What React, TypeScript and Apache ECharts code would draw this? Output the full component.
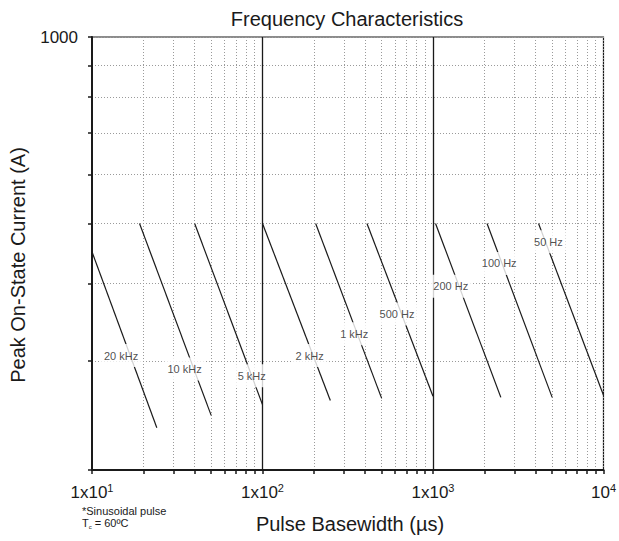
import React, { useEffect, useRef } from "react";
import * as echarts from "echarts";

// ---- data ----
const freqNames = ["20 kHz", "10 kHz", "5 kHz", "2 kHz", "1 kHz", "500 Hz", "200 Hz", "100 Hz", "50 Hz"];
const startWidth = [10, 19, 40, 100, 205, 410, 1035, 2075, 4160];
const startCurrent = [450, 500, 500, 500, 500, 500, 500, 500, 500];
const endWidth = [24, 50, 100, 250, 500, 1000, 2500, 5000, 10000];
const endCurrent = [234, 245, 255, 259, 261, 263, 262, 262, 264];
const labelWidth = [14.8, 34.9, 86.5, 189, 345, 615, 1271, 2445, 4755];
const labelCurrent = [306, 291, 284, 306, 332, 357, 396, 431, 467];

const xTicks = [10, 20, 30, 40, 50, 60, 70, 80, 90, 100, 200, 300, 400, 500, 600, 700, 800, 900, 1000, 2000, 3000, 4000, 5000, 6000, 7000, 8000, 9000, 10000];
const xLabelValues = [10, 100, 1000, 10000];
const xLabelBase = ["1x10", "1x10", "1x10", "10"];
const xLabelExp = ["1", "2", "3", "4"];
const majorGridX = [100, 1000];
const yTicks = [200, 300, 400, 500, 600, 700, 800, 900, 1000];
const yLabelValues = [1000];

const FONT = "'Liberation Sans', Arial, Helvetica, sans-serif";
const INK = "#1a1a1a";
const GRID = "#9a9a9a";

function findLabelIndex(v: number): number {
  let idx = xLabelValues.findIndex((t) => Math.abs(Math.log10(t) - Math.log10(v)) < 0.01);
  if (idx < 0) idx = xLabelValues.findIndex((t) => Math.abs(Math.log10(t) - v) < 0.01);
  return idx;
}

export default function App() {
  const ref = useRef<HTMLDivElement>(null);

  useEffect(() => {
    if (!ref.current) return;
    const chart = echarts.init(ref.current, null, { renderer: "svg" });

    const lineSeries: any[] = freqNames.map((name, i) => ({
      type: "line",
      name,
      data: [
        [startWidth[i], startCurrent[i]],
        [endWidth[i], endCurrent[i]],
      ],
      symbol: "none",
      showSymbol: false,
      silent: true,
      z: 3,
      lineStyle: { color: INK, width: 1.2 },
      ...(i === 0
        ? {
            markLine: {
              silent: true,
              symbol: ["none", "none"],
              label: { show: false },
              lineStyle: { color: INK, width: 1.3, type: "solid" },
              emphasis: { disabled: true },
              data: majorGridX.map((v) => ({ xAxis: v })),
            },
          }
        : {}),
    }));

    const labelSeries = {
      type: "scatter",
      silent: true,
      z: 10,
      symbolSize: 1,
      itemStyle: { color: "rgba(255,255,255,0)" },
      data: freqNames.map((n, i) => ({ name: n, value: [labelWidth[i], labelCurrent[i]] })),
      label: {
        show: true,
        position: "inside",
        formatter: "{b}",
        fontSize: 11,
        fontFamily: FONT,
        color: "#222",
        backgroundColor: "#fff",
        lineHeight: 13,
        padding: [5, 3],
      },
    };

    chart.setOption({
      animation: false,
      backgroundColor: "#fff",
      grid: {
        left: 92,
        top: 37,
        right: 13,
        bottom: 71,
        show: true,
        borderColor: INK,
        borderWidth: 1.2,
        backgroundColor: "transparent",
      },
      xAxis: {
        type: "log",
        logBase: 10,
        min: 10,
        max: 10000,
        axisLine: { show: true, onZero: false, lineStyle: { color: INK, width: 2 } },
        axisTick: { show: true, customValues: xTicks, length: 4, inside: false, lineStyle: { color: INK, width: 1.5 } },
        axisLabel: {
          customValues: xLabelValues,
          showMinLabel: true,
          showMaxLabel: true,
          margin: 12,
          formatter: (v: number) => {
            const i = findLabelIndex(v);
            if (i < 0) return "";
            return "{m|" + xLabelBase[i] + "}{s|" + xLabelExp[i] + "}";
          },
          rich: {
            m: { fontSize: 17, fontFamily: FONT, color: INK, lineHeight: 20 },
            s: { fontSize: 11, fontFamily: FONT, color: INK, lineHeight: 12, verticalAlign: "top" },
          },
        },
        splitLine: { show: true, lineStyle: { color: GRID, width: 1, type: [1, 2] } },
      },
      yAxis: {
        type: "log",
        logBase: 10,
        min: 200,
        max: 1000,
        axisLine: { show: true, onZero: false, lineStyle: { color: INK, width: 2 } },
        axisTick: { show: true, customValues: yTicks, length: 4, inside: false, lineStyle: { color: INK, width: 1.5 } },
        axisLabel: {
          customValues: yLabelValues,
          showMinLabel: true,
          showMaxLabel: true,
          margin: 14,
          fontSize: 17,
          fontFamily: FONT,
          color: INK,
          padding: [0, 0, 4, 0],
          formatter: (v: number) => {
            const val = v < 10 ? Math.pow(10, v) : v;
            return String(Math.round(val));
          },
        },
        splitLine: { show: true, lineStyle: { color: GRID, width: 1, type: [1, 2] } },
      },
      graphic: [
        {
          type: "text",
          x: 347,
          y: 19,
          silent: true,
          style: { text: "Frequency Characteristics", fontSize: 20, fontFamily: FONT, fill: INK, align: "center", verticalAlign: "middle" },
        },
        {
          type: "text",
          x: 350,
          y: 524,
          silent: true,
          style: { text: "Pulse Basewidth (\u00b5s)", fontSize: 20, fontFamily: FONT, fill: INK, align: "center", verticalAlign: "middle" },
        },
        {
          type: "text",
          x: 18,
          y: 265,
          rotation: Math.PI / 2,
          silent: true,
          style: { text: "Peak On-State Current (A)", fontSize: 20, fontFamily: FONT, fill: INK, align: "center", verticalAlign: "middle" },
        },
        {
          type: "text",
          x: 82,
          y: 511,
          silent: true,
          style: { text: "*Sinusoidal pulse", fontSize: 11, fontFamily: FONT, fill: INK, align: "left", verticalAlign: "middle" },
        },
        {
          type: "text",
          x: 82,
          y: 523,
          silent: true,
          style: {
            text: "{a|T}{b|c}{a| = 60\u00baC}",
            fontFamily: FONT,
            fill: INK,
            align: "left",
            verticalAlign: "middle",
            rich: {
              a: { fontSize: 11, fontFamily: FONT, fill: INK, lineHeight: 13 },
              b: { fontSize: 6, fontFamily: FONT, fill: INK, lineHeight: 6, verticalAlign: "bottom" },
            },
          },
        },
      ],
      series: [...lineSeries, labelSeries],
    });

    return () => {
      chart.dispose();
    };
  }, []);

  return (
    <div
      ref={ref}
      style={{ position: "fixed", left: 0, top: 0, width: 619, height: 541, background: "#fff" }}
    />
  );
}
